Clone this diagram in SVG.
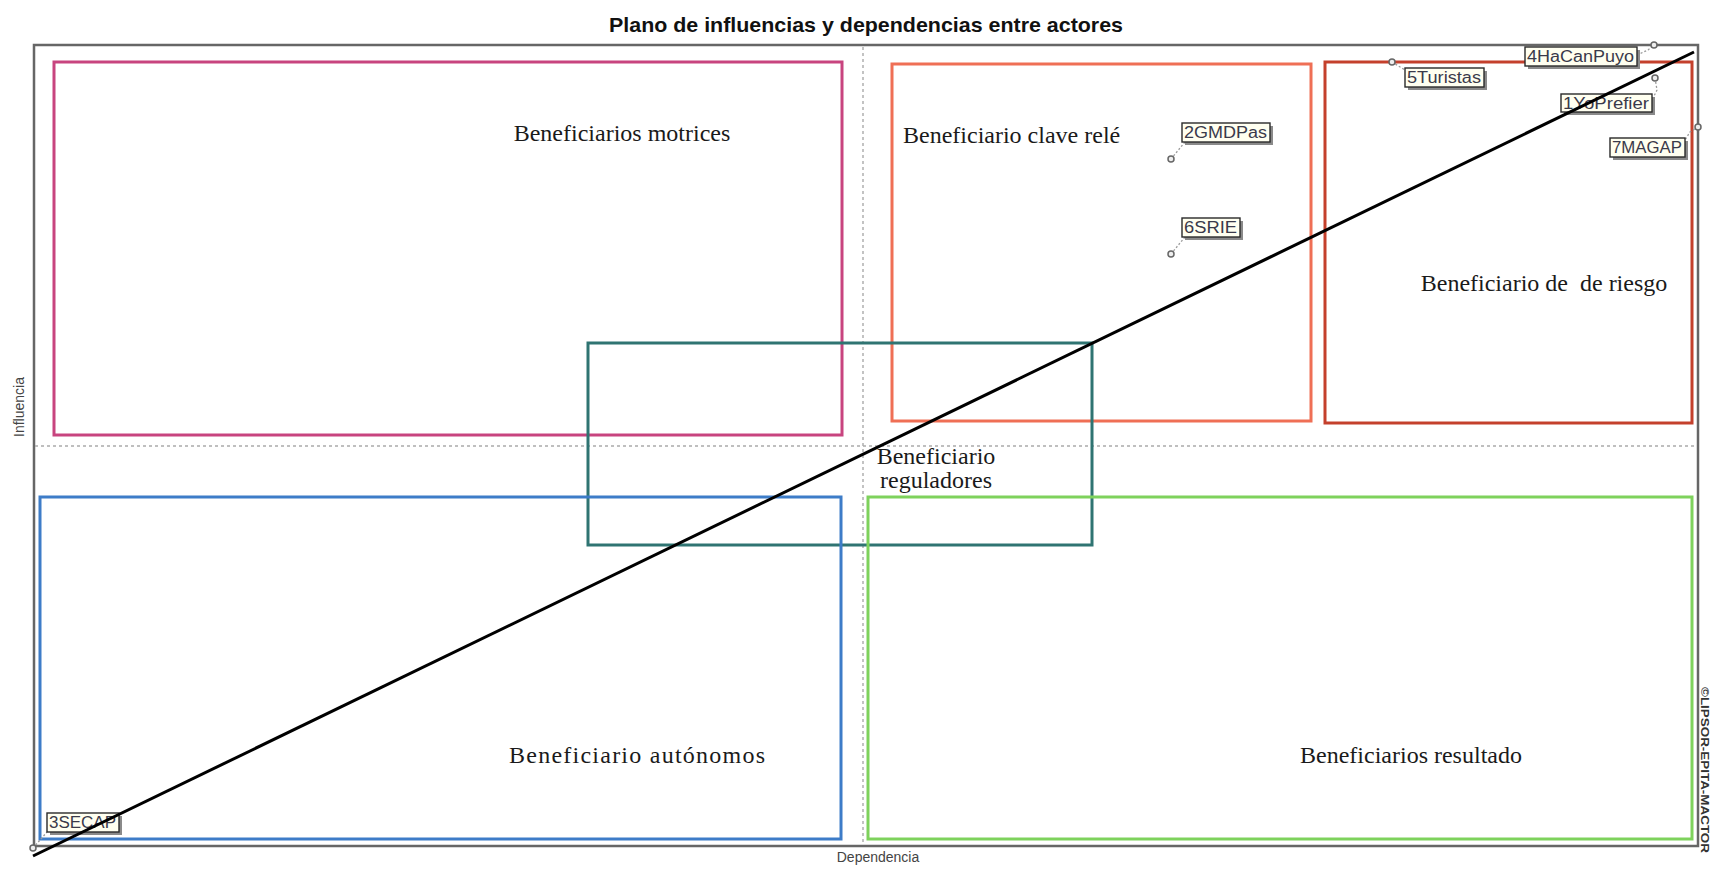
<svg xmlns="http://www.w3.org/2000/svg" width="1715" height="869" viewBox="0 0 1715 869">
  <style>
    .zone { fill: none; stroke-width: 3; }
    .zlabel { font-family: "Liberation Serif", "Times New Roman", serif; font-size: 24px; fill: #1a1a1a; }
    .tag rect { fill: #fffff0; stroke: #2a2a2a; stroke-width: 1.4; }
    .tag .shadow { fill: #8a8a8a; stroke: none; }
    .tag text { font-family: "Liberation Sans", Arial, sans-serif; font-size: 16px; fill: #3a3a4a; }
    .lead { fill: none; stroke: #9a9a9a; stroke-width: 1.3; stroke-dasharray: 2 2; }
    .pt { fill: #eeeeee; stroke: #666; stroke-width: 1.5; }
    .axis { font-family: "Liberation Sans", Arial, sans-serif; font-size: 14px; fill: #444; }
    .grid { stroke: #aaaaaa; stroke-width: 1.4; stroke-dasharray: 3 3; }
  </style>

  <rect x="0" y="0" width="1715" height="869" fill="#ffffff"/>

  <!-- title -->
  <text x="866" y="32" text-anchor="middle" font-family="'Liberation Sans', Arial, sans-serif" font-weight="bold" font-size="21" fill="#111" textLength="514" lengthAdjust="spacingAndGlyphs">Plano de influencias y dependencias entre actores</text>

  <!-- plot frame and quadrant axes -->
  <g id="frame">
    <rect x="34" y="45" width="1664" height="801" fill="none" stroke="#666" stroke-width="2.5"/>
    <line class="grid" x1="863" y1="47" x2="863" y2="845"/>
    <line class="grid" x1="35" y1="446" x2="1697" y2="446"/>
  </g>

  <text class="axis" transform="translate(24,407) rotate(-90)" text-anchor="middle">Influencia</text>
  <text class="axis" x="878" y="862" text-anchor="middle">Dependencia</text>
  <text transform="translate(1701,770) rotate(90)" text-anchor="middle" font-family="'Liberation Sans', Arial, sans-serif" font-weight="bold" font-size="10" fill="#333" textLength="166" lengthAdjust="spacingAndGlyphs">©LIPSOR-EPITA-MACTOR</text>

  <!-- zones -->
  <g id="zone-motrices">
    <rect class="zone" x="54" y="62" width="788" height="373" stroke="#c8447f"/>
    <text class="zlabel" x="622" y="141" text-anchor="middle">Beneficiarios motrices</text>
  </g>
  <g id="zone-clave">
    <rect class="zone" x="892" y="64" width="419" height="357" stroke="#ef6f55"/>
    <text class="zlabel" x="903" y="143">Beneficiario clave relé</text>
  </g>
  <g id="zone-riesgo">
    <rect class="zone" x="1325" y="62" width="367" height="361" stroke="#c4402c"/>
    <text class="zlabel" x="1544" y="291" text-anchor="middle" xml:space="preserve">Beneficiario de  de riesgo</text>
  </g>
  <g id="zone-reguladores">
    <rect class="zone" x="588" y="343" width="504" height="202" stroke="#2f7472"/>
    <text class="zlabel" x="936" y="464" text-anchor="middle">Beneficiario</text>
    <text class="zlabel" x="936" y="488" text-anchor="middle">reguladores</text>
  </g>
  <g id="zone-autonomos">
    <rect class="zone" x="40" y="497" width="801" height="342" stroke="#3d7cc8"/>
    <text class="zlabel" x="637" y="763" text-anchor="middle" textLength="256" lengthAdjust="spacing">Beneficiario autónomos</text>
  </g>
  <g id="zone-resultado">
    <rect class="zone" x="868" y="497" width="824" height="342" stroke="#7ed25c"/>
    <text class="zlabel" x="1411" y="763" text-anchor="middle">Beneficiarios resultado</text>
  </g>

  <!-- label leaders from each actor point to its tag -->
  <g id="connectors">
    <path class="lead" d="M1637 55 L1648 50 L1654 45"/>
    <path class="lead" d="M1392 62 L1405 70"/>
    <path class="lead" d="M1655 78 L1657 90 L1652 100"/>
    <path class="lead" d="M1698 127 L1690 132 L1685 140"/>
    <path class="lead" d="M1171 159 L1185 142"/>
    <path class="lead" d="M1171 254 L1185 237"/>
    <path class="lead" d="M33 848 L47 832"/>
  </g>

  <!-- actors -->
  <g id="actor-4" class="tag">
    <circle class="pt" cx="1654" cy="45" r="3"/>
    <rect class="shadow" x="1528" y="50" width="112" height="19"/>
    <rect x="1525" y="47" width="112" height="19"/>
    <text x="1527" y="62" textLength="107" lengthAdjust="spacingAndGlyphs">4HaCanPuyo</text>
  </g>
  <g id="actor-5" class="tag">
    <circle class="pt" cx="1392" cy="62" r="3"/>
    <rect class="shadow" x="1408" y="71" width="79" height="19"/>
    <rect x="1405" y="68" width="79" height="19"/>
    <text x="1407" y="83" textLength="74" lengthAdjust="spacingAndGlyphs">5Turistas</text>
  </g>
  <g id="actor-1" class="tag">
    <circle class="pt" cx="1655" cy="78" r="3"/>
    <rect class="shadow" x="1564" y="97" width="91" height="18"/>
    <rect x="1561" y="94" width="91" height="18"/>
    <text x="1563" y="109" textLength="86" lengthAdjust="spacingAndGlyphs">1YoPrefier</text>
  </g>
  <g id="actor-7" class="tag">
    <circle class="pt" cx="1698" cy="127" r="3"/>
    <rect class="shadow" x="1613" y="141" width="75" height="19"/>
    <rect x="1610" y="138" width="75" height="19"/>
    <text x="1612" y="153" textLength="70" lengthAdjust="spacingAndGlyphs">7MAGAP</text>
  </g>
  <g id="actor-2" class="tag">
    <circle class="pt" cx="1171" cy="159" r="3"/>
    <rect class="shadow" x="1185" y="126" width="88" height="19"/>
    <rect x="1182" y="123" width="88" height="19"/>
    <text x="1184" y="138" textLength="83" lengthAdjust="spacingAndGlyphs">2GMDPas</text>
  </g>
  <g id="actor-6" class="tag">
    <circle class="pt" cx="1171" cy="254" r="3"/>
    <rect class="shadow" x="1185" y="221" width="58" height="19"/>
    <rect x="1182" y="218" width="58" height="19"/>
    <text x="1184" y="233" textLength="53" lengthAdjust="spacingAndGlyphs">6SRIE</text>
  </g>
  <g id="actor-3" class="tag">
    <circle class="pt" cx="33" cy="848" r="3"/>
    <rect class="shadow" x="50" y="816" width="72" height="19"/>
    <rect x="47" y="813" width="72" height="19"/>
    <text x="49" y="828" textLength="67" lengthAdjust="spacingAndGlyphs">3SECAP</text>
  </g>

  <!-- bisector, drawn over the tags -->
  <g id="bisector">
    <line x1="33" y1="856" x2="1694" y2="52" stroke="#000" stroke-width="3"/>
  </g>
</svg>
